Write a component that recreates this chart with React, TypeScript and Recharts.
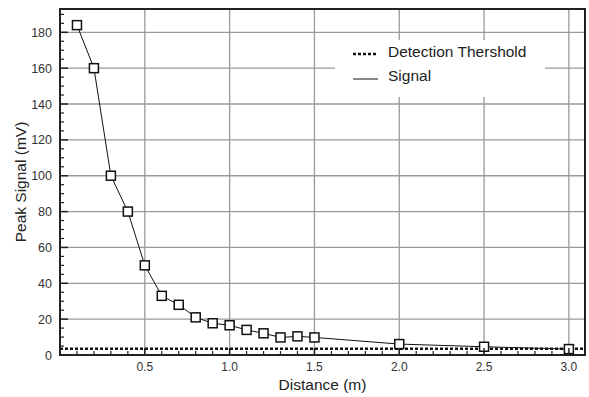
import React from 'react';
import {
  ComposedChart,
  Line,
  XAxis,
  YAxis,
  CartesianGrid,
  ReferenceLine,
  ReferenceArea,
  Legend,
  Label,
} from 'recharts';

const distances = [0.1, 0.2, 0.3, 0.4, 0.5, 0.6, 0.7, 0.8, 0.9, 1.0, 1.1, 1.2, 1.3, 1.4, 1.5, 2.0, 2.5, 3.0];
const signalValues = [184, 160, 100, 80, 50, 33, 28, 21, 17.7, 16.6, 14, 12.1, 9.8, 10.4, 9.8, 6.1, 4.6, 3.3];
const thresholdValue = 3.5;
const seriesNames = ['Detection Thershold', 'Signal'];
const xMajorTicks = [0.5, 1.0, 1.5, 2.0, 2.5, 3.0];
const xMinorTicks = [0.1, 0.2, 0.3, 0.4, 0.5, 0.6, 0.7, 0.8, 0.9, 1.0, 1.1, 1.2, 1.3, 1.4, 1.5, 1.6, 1.7, 1.8, 1.9, 2.0, 2.1, 2.2, 2.3, 2.4, 2.5, 2.6, 2.7, 2.8, 2.9, 3.0];
const yMajorTicks = [0, 20, 40, 60, 80, 100, 120, 140, 160, 180];
const yMinorTicks = [0, 5, 10, 15, 20, 25, 30, 35, 40, 45, 50, 55, 60, 65, 70, 75, 80, 85, 90, 95, 100, 105, 110, 115, 120, 125, 130, 135, 140, 145, 150, 155, 160, 165, 170, 175, 180, 185, 190];
const xDomain: [number, number] = [0, 3.095];
const yDomain: [number, number] = [0, 193];

const data = distances.map((d, i) => ({ distance: d, signal: signalValues[i] }));

const FONT = '"Liberation Sans", Arial, Helvetica, sans-serif';
const DARK = '#222';

const isXMajor = (v: number) => xMajorTicks.some((t) => Math.abs(t - v) < 1e-6);
const isYMajor = (v: number) => yMajorTicks.some((t) => Math.abs(t - v) < 1e-6);

const renderXTick = (props: any) => {
  const { x, y, payload } = props;
  const v = payload.value as number;
  if (isXMajor(v)) {
    return (
      <g key={`xt-${v}`}>
        <line x1={x} y1={y} x2={x} y2={y - 7} stroke={DARK} strokeWidth={1.5} />
        <text x={x} y={y + 16} textAnchor="middle" fontFamily={FONT} fontSize={12} fill="#333">
          {v.toFixed(1)}
        </text>
      </g>
    );
  }
  return <line key={`xt-${v}`} x1={x} y1={y} x2={x} y2={y - 4} stroke={DARK} strokeWidth={1.2} />;
};

const renderYTick = (props: any) => {
  const { x, y, payload } = props;
  const v = payload.value as number;
  if (isYMajor(v)) {
    return (
      <g key={`yt-${v}`}>
        <line x1={x} y1={y} x2={x + 8} y2={y} stroke={DARK} strokeWidth={1.5} />
        <text x={x - 8} y={y + 4.5} textAnchor="end" fontFamily={FONT} fontSize={12.5} fill="#333">
          {v}
        </text>
      </g>
    );
  }
  return <line key={`yt-${v}`} x1={x} y1={y} x2={x + 4} y2={y} stroke={DARK} strokeWidth={1.2} />;
};

const renderDot = (props: any) => {
  const { cx, cy, index } = props;
  return (
    <rect
      key={`dot-${index}`}
      x={cx - 4.5}
      y={cy - 4.5}
      width={9}
      height={9}
      fill="#fff"
      stroke="#111"
      strokeWidth={1.5}
    />
  );
};

const renderLegend = () => (
  <div style={{ width: 210, height: 57, background: '#fff', position: 'relative' }}>
    <svg width={210} height={57} style={{ position: 'absolute', left: 0, top: 0 }}>
      <line x1={18} x2={43} y1={14} y2={14} stroke="#111" strokeWidth={2.5} strokeDasharray="3 2" />
      <text x={53} y={17} fontFamily={FONT} fontSize={15.5} fill="#222">
        {seriesNames[0]}
      </text>
      <line x1={18} x2={43} y1={39} y2={39} stroke="#111" strokeWidth={1} />
      <text x={53} y={40.5} fontFamily={FONT} fontSize={15.5} fill="#222">
        {seriesNames[1]}
      </text>
    </svg>
  </div>
);

export default function App() {
  return (
    <div style={{ position: 'absolute', left: 0, top: 0 }}>
      <ComposedChart
        width={589}
        height={397}
        data={data}
        margin={{ top: 9, right: 4, bottom: 0, left: 0 }}
        style={{ background: '#fff' }}
      >
        <CartesianGrid
          horizontalValues={yMajorTicks.filter((t) => t > 0)}
          verticalValues={xMajorTicks}
          stroke="#9a9a9a"
          strokeWidth={1.3}
        />
        <XAxis
          dataKey="distance"
          type="number"
          domain={xDomain}
          allowDataOverflow
          ticks={xMinorTicks}
          interval={0}
          tickSize={0}
          tickMargin={0}
          tickLine={false}
          tick={renderXTick}
          axisLine={{ stroke: DARK, strokeWidth: 2 }}
          height={42}
        >
          <Label
            value="Distance (m)"
            position="center"
            dy={8}
            style={{ fontFamily: FONT, fontSize: 15.5, fill: '#222' }}
          />
        </XAxis>
        <YAxis
          type="number"
          domain={yDomain}
          allowDataOverflow
          ticks={yMinorTicks}
          interval={0}
          tickSize={0}
          tickMargin={0}
          tickLine={false}
          tick={renderYTick}
          axisLine={{ stroke: DARK, strokeWidth: 2 }}
          width={60}
        >
          <Label
            value="Peak Signal (mV)"
            angle={-90}
            position="center"
            dx={-10}
            style={{ fontFamily: FONT, fontSize: 15.5, fill: '#222', textAnchor: 'middle' }}
          />
        </YAxis>
        <ReferenceArea
          x1={xDomain[0]}
          x2={xDomain[1]}
          y1={yDomain[0]}
          y2={yDomain[1]}
          fill="none"
          stroke={DARK}
          strokeWidth={2}
        />
        <ReferenceLine
          y={thresholdValue}
          stroke="#111"
          strokeWidth={2.5}
          strokeDasharray="3 2"
        />
        <Line
          dataKey="signal"
          name={seriesNames[1]}
          stroke="#111"
          strokeWidth={1}
          dot={renderDot}
          activeDot={false}
          isAnimationActive={false}
        />
        <Legend
          layout="vertical"
          align="center"
          verticalAlign="middle"
          wrapperStyle={{ left: 335, top: 40, width: 210, height: 57 }}
          content={renderLegend}
        />
      </ComposedChart>
    </div>
  );
}
